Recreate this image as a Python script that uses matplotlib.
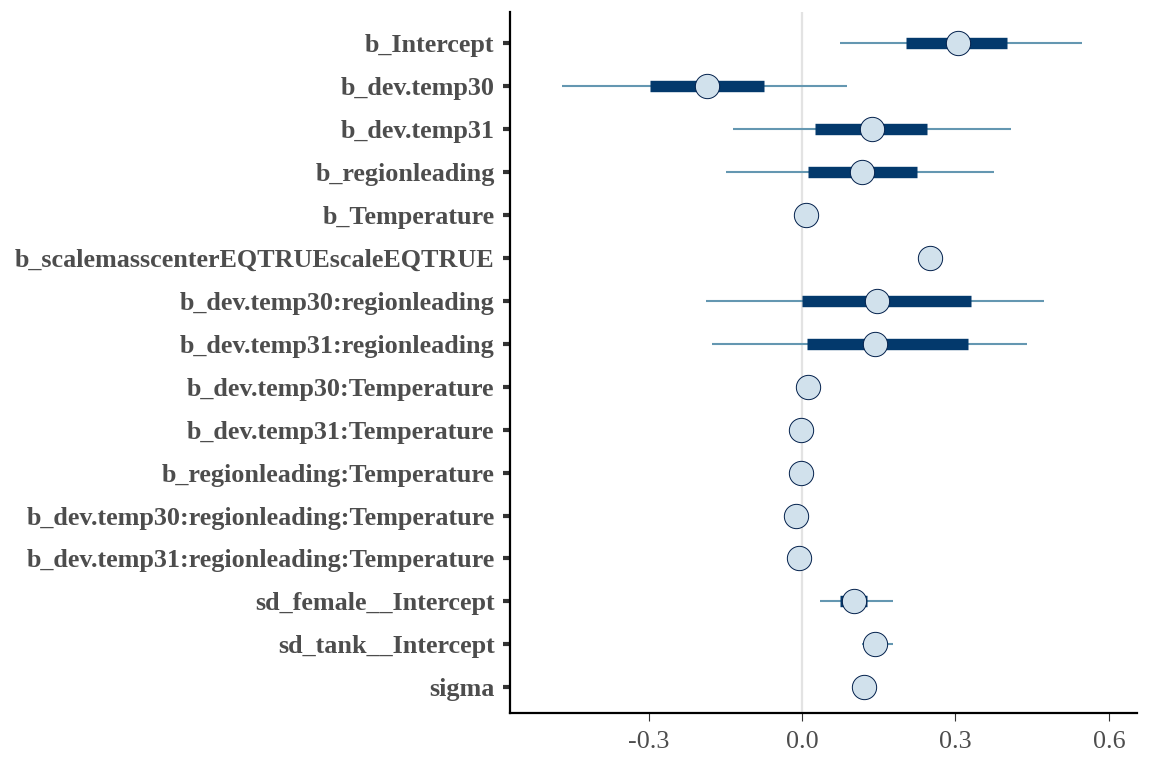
import numpy as np
import matplotlib.pyplot as plt

# Parameters (top to bottom) and posterior summaries
params = [
    "b_Intercept", "b_dev.temp30", "b_dev.temp31", "b_regionleading",
    "b_Temperature", "b_scalemasscenterEQTRUEscaleEQTRUE",
    "b_dev.temp30:regionleading", "b_dev.temp31:regionleading",
    "b_dev.temp30:Temperature", "b_dev.temp31:Temperature",
    "b_regionleading:Temperature", "b_dev.temp30:regionleading:Temperature",
    "b_dev.temp31:regionleading:Temperature", "sd_female__Intercept",
    "sd_tank__Intercept", "sigma",
]
median = [0.304, -0.186, 0.137, 0.118, 0.008, 0.251, 0.147, 0.143,
          0.012, -0.002, -0.002, -0.012, -0.006, 0.102, 0.143, 0.122]
inner_lo = [0.204, -0.298, 0.025, 0.012, 0.002, 0.247, 0.000, 0.010,
            0.007, -0.005, -0.005, -0.015, -0.009, 0.075, 0.125, 0.118]
inner_hi = [0.400, -0.075, 0.245, 0.225, 0.014, 0.255, 0.331, 0.324,
            0.017, 0.001, 0.001, -0.009, -0.003, 0.127, 0.160, 0.126]
outer_lo = [0.075, -0.469, -0.135, -0.149, -0.004, 0.240, -0.188, -0.176,
            0.002, -0.009, -0.009, -0.019, -0.013, 0.035, 0.118, 0.113]
outer_hi = [0.547, 0.088, 0.408, 0.375, 0.020, 0.262, 0.473, 0.439,
            0.022, 0.005, 0.005, -0.005, 0.001, 0.178, 0.178, 0.131]

xticks = [-0.3, 0.0, 0.3, 0.6]
xticklabels = ["-0.3", "0.0", "0.3", "0.6"]

plt.rcParams['font.family'] = ['Liberation Serif', 'DejaVu Serif']

fig = plt.figure(figsize=(11.52, 7.68), dpi=100)
ax = fig.add_axes([0.4427, 0.0716, 0.5443, 0.9124])

y = np.arange(1, len(params) + 1)

ax.axvline(0, color='#e3e3e3', lw=1.6, zorder=0)
ax.hlines(y, outer_lo, outer_hi, color='#6497b1', lw=1.5, zorder=1)
ax.hlines(y, inner_lo, inner_hi, color='#03396c', lw=8.2, zorder=2)
ax.plot(median, y, 'o', ms=17.5, mfc='#d1e1ec', mec='#011f4b', mew=0.7,
        ls='none', zorder=3)

ax.set_ylim(16.6, 0.28)
ax.set_xlim(-0.571, 0.655)

ax.set_yticks(y)
ax.set_yticklabels(params, fontsize=18.8, fontweight='bold', color='#4d4d4d')
ax.set_xticks(xticks)
ax.set_xticklabels(xticklabels, fontsize=18.8, color='#4d4d4d')

ax.tick_params(axis='y', length=5, width=3, color='#333333', pad=6)
ax.tick_params(axis='x', length=6, width=0.8, color='#333333', pad=7)

for side in ['top', 'right']:
    ax.spines[side].set_visible(False)
for side in ['left', 'bottom']:
    ax.spines[side].set_linewidth(1.6)
    ax.spines[side].set_color('black')

fig.savefig("out.png", dpi=100, facecolor='white')
